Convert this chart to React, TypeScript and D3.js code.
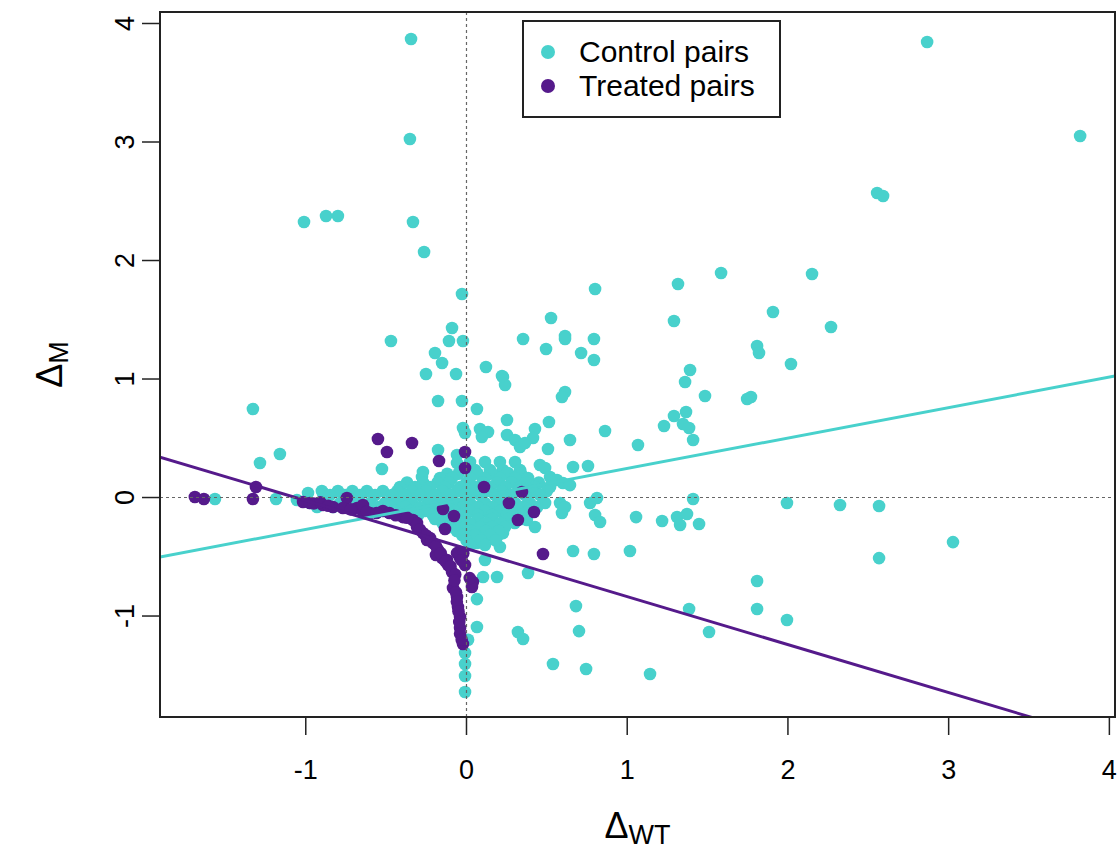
import React from "react";
import * as d3 from "d3";

// Control pairs: [ΔWT, ΔM]
const controlX = [
  -0.345, -0.352, -1.011, -0.874, -0.8, -0.333, -0.264, -0.028, 2.866, 3.818, 2.555, 2.592, 2.15, 2.268, 2.324, 2.567, 2.567, 3.027,
  1.584, 1.316, 0.8, 1.907, 0.526, 1.291, 0.352, 0.613, 0.613, 0.793, 0.495, 0.713, 0.793, 1.808, 1.82, 2.019, 1.391, 1.36,
  0.227, 0.24, 0.613, 0.594, 1.484, 1.746, 1.77, 0.252, 0.513, 1.291, 1.366, 1.229, 1.347, 1.385, 1.41, 0.862, 1.067, 0.426,
  0.414, 0.252, 0.302, 0.333, 0.364, 0.507, 0.644, 0.227, 0.258, 0.457, 0.489, 0.52, 0.563, 0.6, 0.644, 0.663, 0.756, 0.52,
  0.582, 0.594, 0.613, 0.769, 0.812, 0.8, 0.831, 1.055, 1.217, 1.31, 1.329, 1.372, 1.41, 1.447, 1.994, 0.663, 0.793, 1.017,
  0.383, 1.808, 0.681, 1.385, 1.808, 1.994, 0.7, 1.509, 0.32, 0.352, 0.538, 0.744, 1.142, 0.19, 0.103, 0.115, 0.065, 0.065,
  -0.009, -0.009, -0.009, -0.009, 0.01, 0.146, 0.19, 0.227, 0.208, 0.065, 0.426, 0.376, -0.47, -0.09, -0.109, -0.022, -0.196,
  -0.152, -0.252, -0.065, 0.121, 0.221, -0.177, -0.028, 0.065, -1.329, -1.161, -1.285, -0.022, -0.009, 0.084, 0.134, 0.096,
  -0.526, -0.271, -0.277, -1.565, -1.185, -0.986, -0.893, -1.055, -0.177, -0.059, -0.059,
  // dense core
  0.022, 0.115, 0.208, 0.302, 0.053, 0.146, 0.333,
  -0.12, -0.05, 0.07, 0.16, 0.25, 0.34,
  -0.165, -0.09, 0.022, 0.115, 0.208, 0.302, 0.383,
  -0.37, -0.27, -0.18, -0.11, 0.0, 0.1, 0.19, 0.28, 0.37, 0.45,
  -0.414, -0.32, -0.227, -0.134, -0.04, 0.053, 0.146, 0.24, 0.333, 0.426,
  -0.9, -0.8, -0.71, -0.62, -0.52, -0.43, -0.34, -0.25, -0.15, -0.06, 0.03, 0.13, 0.22, 0.32, 0.41, 0.5,
  -0.849, -0.756, -0.663, -0.569, -0.464, -0.383, -0.289, -0.196, -0.103, -0.009, 0.084, 0.177, 0.271, 0.364, 0.457,
  -0.974, -0.881, -0.787, -0.694, -0.6, -0.507, -0.426, -0.339, -0.24, -0.152, -0.065, 0.022, 0.115, 0.208, 0.302, 0.395, 0.489,
  -0.93, -0.83, -0.74, -0.65, -0.55, -0.47, -0.38, -0.29, -0.2, -0.11, -0.02, 0.07, 0.16, 0.26, 0.35, 0.44,
  -0.445, -0.352, -0.258, -0.165, -0.072, 0.022, 0.115, 0.208, 0.302, 0.383,
  -0.4, -0.3, -0.21, -0.12, -0.03, 0.07, 0.16, 0.25, 0.34,
  -0.196, -0.115, -0.028, 0.072, 0.159, 0.258, 0.345,
  -0.15, -0.07, 0.02, 0.12, 0.21, 0.3,
  -0.103, -0.009, 0.084, 0.159, 0.24,
  -0.06, 0.03, 0.12, 0.2,
  -0.028, 0.053, 0.146,
  0.0, 0.09, 0.18,
  0.022, 0.115,
];
const controlY = [
  3.869, 3.025, 2.325, 2.376, 2.376, 2.325, 2.072, 1.717, 3.844, 3.051, 2.57, 2.544, 1.886, 1.439, -0.063, -0.072, -0.511, -0.376,
  1.895, 1.802, 1.76, 1.565, 1.515, 1.489, 1.338, 1.363, 1.338, 1.338, 1.253, 1.219, 1.16, 1.279, 1.219, 1.127, 1.076, 0.975,
  1.017, 0.949, 0.89, 0.848, 0.857, 0.831, 0.848, 0.654, 0.637, 0.688, 0.722, 0.603, 0.62, 0.587, 0.485, 0.561, 0.443, 0.578,
  0.502, 0.527, 0.485, 0.426, 0.46, 0.409, 0.485, 0.232, 0.207, 0.274, 0.249, 0.173, 0.148, 0.122, 0.105, 0.257, 0.266, 0.089,
  -0.046, -0.131, -0.08, -0.046, -0.004, -0.148, -0.207, -0.165, -0.198, -0.165, -0.232, -0.139, -0.013, -0.224, -0.046, -0.451, -0.477, -0.451,
  -0.637, -0.705, -0.916, -0.941, -0.941, -1.034, -1.127, -1.135, -1.135, -1.194, -1.405, -1.447, -1.489, -0.671, -0.671, -0.527, -0.857, -1.093,
  -1.312, -1.405, -1.506, -1.641, -1.2, -0.291, -0.333, -0.3, -0.418, -0.384, -0.249, -0.19, 1.321, 1.43, 1.321, 1.321, 1.219,
  1.135, 1.042, 1.042, 1.101, 1.025, 0.814, 0.814, 0.747, 0.747, 0.367, 0.291, 0.587, 0.544, 0.578, 0.553, 0.511,
  0.241, 0.215, 0.173, -0.013, -0.013, 0.038, 0.038, -0.021, 0.401, 0.359, 0.291,
  // dense core
  0.3, 0.3, 0.3, 0.3, 0.232, 0.232, 0.232,
  0.2, 0.2, 0.2, 0.2, 0.2, 0.2,
  0.165, 0.165, 0.165, 0.165, 0.165, 0.165, 0.165,
  0.127, 0.127, 0.127, 0.127, 0.127, 0.127, 0.127, 0.127, 0.127, 0.127,
  0.089, 0.089, 0.089, 0.089, 0.089, 0.089, 0.089, 0.089, 0.089, 0.089,
  0.055, 0.055, 0.055, 0.055, 0.055, 0.055, 0.055, 0.055, 0.055, 0.055, 0.055, 0.055, 0.055, 0.055, 0.055, 0.055,
  0.021, 0.021, 0.021, 0.021, 0.021, 0.021, 0.021, 0.021, 0.021, 0.021, 0.021, 0.021, 0.021, 0.021, 0.021,
  -0.046, -0.046, -0.046, -0.046, -0.046, -0.046, -0.046, -0.046, -0.046, -0.046, -0.046, -0.046, -0.046, -0.046, -0.046, -0.046, -0.046,
  -0.08, -0.08, -0.08, -0.08, -0.08, -0.08, -0.08, -0.08, -0.08, -0.08, -0.08, -0.08, -0.08, -0.08, -0.08, -0.08,
  -0.114, -0.114, -0.114, -0.114, -0.114, -0.114, -0.114, -0.114, -0.114, -0.114,
  -0.148, -0.148, -0.148, -0.148, -0.148, -0.148, -0.148, -0.148, -0.148,
  -0.181, -0.181, -0.181, -0.181, -0.181, -0.181, -0.181,
  -0.215, -0.215, -0.215, -0.215, -0.215, -0.215,
  -0.249, -0.249, -0.249, -0.249, -0.249,
  -0.283, -0.283, -0.283, -0.283,
  -0.316, -0.316, -0.316,
  -0.36, -0.36, -0.36,
  -0.401, -0.401,
];

// Treated pairs: [ΔWT, ΔM]
const treatedX = [
  -1.69, -1.634, -1.329, -1.31, -0.551, -0.495, -0.339, -0.171, -0.009, -0.009, 0.109, 0.264, 0.345, 0.42, 0.32, -0.146, -0.078,
  -0.134, -1.017, -0.974, -0.893, -0.831, -0.744, -0.769, -0.681, -0.644, -0.6, -0.52, -0.333, -0.308, -0.271, -0.227, -0.208,
  -0.177, -0.152, -0.04, -0.04, -0.009, -0.09, -0.084, -0.059, -0.053, -0.04, -0.04, -0.022, 0.04, 0.034, 0.476, -0.308,
  -0.246, -0.19, -0.121, -0.059, -0.115, -0.395, -0.644,
  -0.95, -0.91, -0.86, -0.72, -0.62, -0.56, -0.48, -0.44, -0.37, -0.29, -0.25, -0.22, -0.19, -0.16, -0.13, -0.1, -0.07,
  -0.075, -0.065, -0.06, -0.05, -0.045, -0.04, -0.03, 0.02, -0.02, -0.03,
];
const treatedY = [
  0.004, -0.013, -0.013, 0.089, 0.494, 0.384, 0.46, 0.308, 0.384, 0.249, 0.089, -0.046, 0.046, -0.122, -0.19, -0.097, -0.156,
  -0.266, -0.038, -0.046, -0.063, -0.08, -0.004, -0.089, -0.089, -0.122, -0.131, -0.114, -0.19, -0.249, -0.3, -0.342, -0.384,
  -0.443, -0.511, -0.46, -0.511, -0.57, -0.629, -0.764, -0.84, -0.924, -1.008, -1.101, -1.236, -0.713, -0.755, -0.477, -0.215,
  -0.359, -0.485, -0.527, -0.469, -0.57, -0.165, -0.063,
  -0.05, -0.04, -0.07, -0.1, -0.12, -0.13, -0.13, -0.15, -0.17, -0.27, -0.32, -0.37, -0.41, -0.47, -0.54, -0.58, -0.65,
  -0.7, -0.8, -0.88, -0.96, -1.05, -1.15, -1.2, -0.68, -0.47, -0.53,
];

// Fitted lines (intercept, slope)
const controlFit = [-0.012, 0.257];
const treatedFit = [-0.431, -0.405];

const xTicks = [-1, 0, 1, 2, 3, 4];
const yTicks = [-1, 0, 1, 2, 3, 4];
const xDomain = [-1.907, 4.035];
const yDomain = [-1.852, 4.097];

const CYAN = "#48D1CC";
const PURPLE = "#551A8B";
const FONT = "'Liberation Sans', Arial, sans-serif";

export default function App() {
  const left = 160, right = 1115, top = 12, bottom = 717;
  const x = d3.scaleLinear().domain(xDomain).range([left, right]);
  const y = d3.scaleLinear().domain(yDomain).range([bottom, top]);
  const fitPath = (fit: number[]) =>
    d3.line<number>().x((v) => x(v)).y((v) => y(fit[0] + fit[1] * v))(xDomain);

  const control = controlX.map((v, i) => [v, controlY[i]]);
  const treated = treatedX.map((v, i) => [v, treatedY[i]]);

  return (
    <svg width={1120} height={850} style={{ position: "absolute", left: 0, top: 0, background: "#fff" }} fontFamily={FONT}>
      <defs>
        <clipPath id="plotclip">
          <rect x={left} y={top} width={right - left} height={bottom - top} />
        </clipPath>
      </defs>
      {control.map((d, i) => (
        <circle key={"c" + i} cx={x(d[0])} cy={y(d[1])} r={6.3} fill={CYAN} />
      ))}
      {treated.map((d, i) => (
        <circle key={"t" + i} cx={x(d[0])} cy={y(d[1])} r={6.3} fill={PURPLE} />
      ))}
      <g clipPath="url(#plotclip)">
        <path d={fitPath(controlFit) || ""} stroke={CYAN} strokeWidth={3} fill="none" />
        <path d={fitPath(treatedFit) || ""} stroke={PURPLE} strokeWidth={3} fill="none" />
        <line x1={x(0)} x2={x(0)} y1={top} y2={bottom} stroke="#666" strokeWidth={1.2} strokeDasharray="3,3" />
        <line x1={left} x2={right} y1={y(0)} y2={y(0)} stroke="#666" strokeWidth={1.2} strokeDasharray="3,3" />
      </g>
      <rect x={left} y={top} width={right - left} height={bottom - top} fill="none" stroke="#222" strokeWidth={2} />
      {/* x axis */}
      {xTicks.map((t) => (
        <g key={"xt" + t}>
          <line x1={x(t)} x2={x(t)} y1={bottom} y2={bottom + 18} stroke="#222" strokeWidth={1.5} />
          <text x={x(t)} y={bottom + 62} textAnchor="middle" fontSize={27} fill="#000">{t}</text>
        </g>
      ))}
      {/* y axis */}
      {yTicks.map((t) => (
        <g key={"yt" + t}>
          <line x1={left - 18} x2={left} y1={y(t)} y2={y(t)} stroke="#222" strokeWidth={1.5} />
          <text transform={`translate(${left - 26},${y(t)}) rotate(-90)`} textAnchor="middle" fontSize={27} fill="#000">{t}</text>
        </g>
      ))}
      {/* axis titles */}
      <text x={(left + right) / 2} y={838} textAnchor="middle" fill="#000">
        <tspan fontSize={36}>Δ</tspan>
        <tspan fontSize={27} dy={6}>WT</tspan>
      </text>
      <text transform={`translate(62,${(top + bottom) / 2}) rotate(-90)`} textAnchor="middle" fill="#000">
        <tspan fontSize={36}>Δ</tspan>
        <tspan fontSize={27} dy={6}>M</tspan>
      </text>
      {/* legend */}
      <rect x={523} y={21} width={257} height={96} fill="#fff" stroke="#222" strokeWidth={2} />
      <circle cx={548} cy={52} r={7} fill={CYAN} />
      <text x={579} y={62} fontSize={30} fill="#000">Control pairs</text>
      <circle cx={548} cy={86} r={7} fill={PURPLE} />
      <text x={579} y={96} fontSize={30} fill="#000">Treated pairs</text>
    </svg>
  );
}
